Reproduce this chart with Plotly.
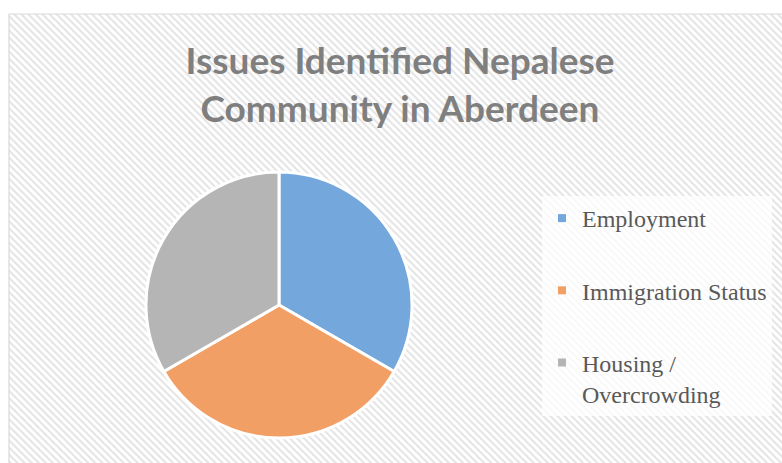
import plotly.graph_objects as go

# ---- data ----
categories = ["Employment", "Immigration Status", "Housing / Overcrowding"]
values = [1, 1, 1]
colors = ["#74a7db", "#f29f66", "#b5b5b5"]
title_lines = ["Issues Identified Nepalese", "Community in Aberdeen"]

W, H = 782, 463

fig = go.Figure()

# hatched chart-area background (pixel axis)
fig.add_trace(go.Bar(
    x=[(9 + 800) / 2], y=[470], base=[14], width=[791],
    marker=dict(color="white", line=dict(width=0),
                pattern=dict(shape="\\", size=5, solidity=0.4,
                             fgcolor="#e3e3e3", bgcolor="white",
                             fillmode="replace")),
    showlegend=False, hoverinfo="skip",
))

# pie
fig.add_trace(go.Pie(
    labels=categories, values=values, sort=False, direction="clockwise",
    rotation=0, textinfo="none",
    marker=dict(colors=colors, line=dict(color="white", width=3)),
    domain=dict(x=[146 / W, 412 / W], y=[1 - 438 / H, 1 - 172 / H]),
    showlegend=False,
))

# legend entries
for cat, col in zip(categories, colors):
    fig.add_trace(go.Scatter(
        x=[None], y=[None], mode="markers",
        marker=dict(symbol="square", size=8, color=col, line=dict(width=0)),
        name=cat.replace(" / ", " /<br>"), legendgroup=cat, showlegend=True,
    ))

fig.add_shape(type="rect", x0=9, y0=14, x1=800, y1=480, xref="x", yref="y",
              line=dict(color="#d9d9d9", width=1.2), fillcolor="rgba(0,0,0,0)",
              layer="above")

fig.update_layout(
    width=W, height=H,
    margin=dict(l=0, r=0, t=0, b=0, pad=0),
    paper_bgcolor="white", plot_bgcolor="white",
    xaxis=dict(range=[0, W], visible=False, fixedrange=True, domain=[0, 1]),
    yaxis=dict(range=[H, 0], visible=False, fixedrange=True, domain=[0, 1]),
    title=dict(text="<br>".join(title_lines), x=400 / W, xanchor="center",
               y=1 - 74 / H, yanchor="middle", yref="container",
               font=dict(family="Lato", size=37, color="#7f7f7f", weight="bold")),
    legend=dict(x=542 / W, xanchor="left", y=1 - 196 / H, yanchor="top",
                bgcolor="rgba(255,255,255,0.75)", font=dict(family="Liberation Serif", size=24, color="#595959"),
                tracegroupgap=38, valign="top", itemsizing="trace"),
    showlegend=True,
)

fig.write_html("out.html")
